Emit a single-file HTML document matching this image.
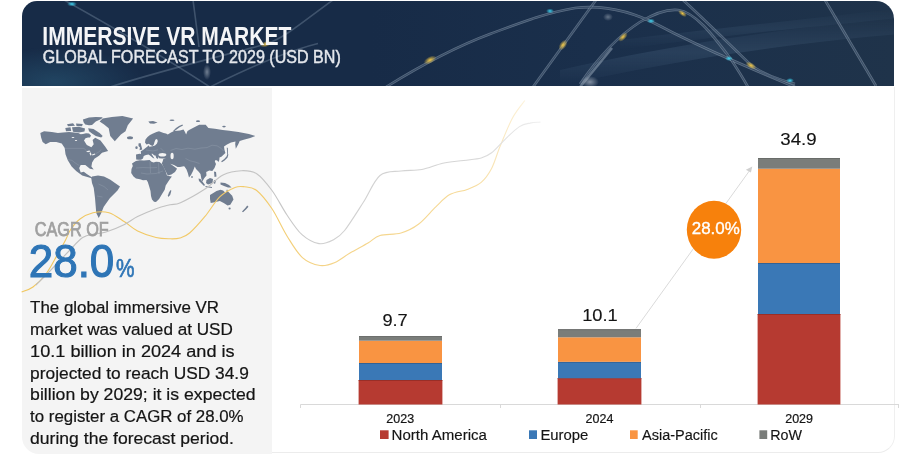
<!DOCTYPE html>
<html>
<head>
<meta charset="utf-8">
<style>
html,body{margin:0;padding:0;background:#ffffff;}
body{width:900px;height:459px;overflow:hidden;position:relative;font-family:"Liberation Sans",Arial,sans-serif;}
#hdr{position:absolute;left:22px;top:1px;width:872px;height:85px;border-radius:15px 18px 0 0;overflow:hidden;
 background:linear-gradient(90deg,#172b47 0%,#172b47 40%,#1a2f4b 65%,#1f334a 100%);}
#lp{position:absolute;left:22px;top:88px;width:250px;height:366px;background:#f4f4f4;border-bottom-left-radius:17px;}
#cf{position:absolute;left:272px;top:87px;width:622px;height:365px;background:#fff;border-right:1px solid #efefef;border-bottom:1px solid #ececec;border-bottom-right-radius:17px;}
svg{position:absolute;left:0;top:0;will-change:transform;}
</style>
</head>
<body>
<div id="hdr">
<svg width="872" height="85" viewBox="22 1 872 85">
 <defs>
  <radialGradient id="g1" cx="0.5" cy="0.5" r="0.5"><stop offset="0" stop-color="#2a5a78" stop-opacity="0.55"/><stop offset="1" stop-color="#2a5a78" stop-opacity="0"/></radialGradient>
  <radialGradient id="gw" cx="0.5" cy="0.5" r="0.5"><stop offset="0" stop-color="#dfe6ee" stop-opacity="0.75"/><stop offset="1" stop-color="#dfe6ee" stop-opacity="0"/></radialGradient>
  <radialGradient id="gy" cx="0.5" cy="0.5" r="0.5"><stop offset="0" stop-color="#f2c846" stop-opacity="1"/><stop offset="1" stop-color="#f2c846" stop-opacity="0"/></radialGradient>
  <radialGradient id="gc" cx="0.5" cy="0.5" r="0.5"><stop offset="0" stop-color="#3cd2f0" stop-opacity="1"/><stop offset="1" stop-color="#3cd2f0" stop-opacity="0"/></radialGradient>
  <filter id="bl" x="-5%" y="-5%" width="110%" height="110%"><feGaussianBlur stdDeviation="0.35"/></filter>
  <linearGradient id="band" x1="0" y1="0" x2="0" y2="1"><stop offset="0" stop-color="#5a7896" stop-opacity="0"/><stop offset="0.5" stop-color="#5a7896" stop-opacity="0.22"/><stop offset="1" stop-color="#5a7896" stop-opacity="0"/></linearGradient>
 </defs>
 <ellipse cx="55" cy="82" rx="90" ry="35" fill="url(#g1)"/>
 <path d="M560,70 C650,50 760,30 900,18 L900,34 C760,46 650,66 560,86 Z" fill="url(#band)"/>
 <path d="M620,40 C700,30 800,20 900,8 L900,18 C800,28 700,38 620,50 Z" fill="url(#band)" opacity="0.7"/>
 <g fill="none" stroke="#aebdcc" stroke-opacity="0.45" stroke-width="2.6" filter="url(#bl)">
  <path id="sA" d="M386,87 C420,66 455,47 490,34 C520,23 545,13 575,8 C600,5 630,10 660,26 C690,42 730,60 795,87"/>
  <path d="M580,84 C595,62 615,38 640,22 C655,13 668,9 678,10 C695,12 712,34 730,58 C738,70 743,78 748,87"/>
  <path d="M683,0 C705,20 730,45 752,66 C765,75 780,80 795,84"/>
  <path d="M533,87 L596,0"/>
  <path d="M580,87 L612,48"/>
  <path d="M825,0 L876,86"/>
</g>
 <g fill="none" stroke="#9aafc4" stroke-opacity="0.3" stroke-width="1.6">
  <path d="M64,0 C100,20 150,48 210,87"/>
  <path d="M110,87 C170,68 230,54 266,44 C285,38 305,20 333,0"/>
  <path d="M210,87 C240,72 270,58 300,48.7 C306,46.7 312,45 318,43.5"/>
  <path d="M193,0 C195,15 197,30 199,47"/>
 </g>
 <g fill="none" stroke="#1a2f4c" stroke-opacity="0.55" stroke-width="1.1">
  <path d="M386,87 C420,66 455,47 490,34 C520,23 545,13 575,8 C600,5 630,10 660,26 C690,42 730,60 795,87"/>
  <path d="M580,84 C595,62 615,38 640,22 C655,13 668,9 678,10 C695,12 712,34 730,58 C738,70 743,78 748,87"/>
  <path d="M683,0 C705,20 730,45 752,66 C765,75 780,80 795,84"/>
  <path d="M533,87 L596,0"/>
  <path d="M825,0 L876,86"/>
 </g>
 <ellipse cx="430" cy="60" rx="7" ry="3.5" fill="url(#gy)" transform="rotate(-28 430 60)"/>
 <ellipse cx="563" cy="45" rx="6" ry="3.5" fill="url(#gy)" transform="rotate(-55 563 45)"/>
 <ellipse cx="623" cy="37" rx="6" ry="3" fill="url(#gy)" transform="rotate(-45 623 37)"/>
 <ellipse cx="751" cy="65.5" rx="6" ry="3" fill="url(#gy)" transform="rotate(30 751 65.5)"/>
 <ellipse cx="266" cy="44" rx="6" ry="3" fill="url(#gy)" transform="rotate(-20 266 44)"/>
 <ellipse cx="682.5" cy="13.5" rx="5" ry="2.5" fill="url(#gy)" transform="rotate(35 682.5 13.5)"/>
 <ellipse cx="550" cy="11" rx="4" ry="2.5" fill="url(#gc)"/>
 <ellipse cx="651" cy="21" rx="4" ry="2.5" fill="url(#gc)"/>
 <ellipse cx="729" cy="58.5" rx="4" ry="2.5" fill="url(#gc)"/>
 <ellipse cx="790" cy="80.5" rx="4" ry="2.5" fill="url(#gc)"/>
 <ellipse cx="72" cy="4" rx="5" ry="2.5" fill="url(#gc)"/>
 <ellipse cx="207" cy="72" rx="4" ry="8" fill="url(#gw)" opacity="0.6"/>
 <ellipse cx="590" cy="82" rx="9" ry="6" fill="url(#gw)" opacity="0.7"/>
 <ellipse cx="608" cy="17" rx="5" ry="4" fill="url(#gw)" opacity="0.5"/>
</svg>
</div>
<div id="lp"></div>
<div id="cf"></div>
<svg width="900" height="459" viewBox="0 0 900 459">
 <!-- header text -->
 <text x="42.3" y="44.8" font-family="Liberation Sans, Arial, sans-serif" font-weight="bold" font-size="25.6" fill="#f4f5f7" textLength="249" lengthAdjust="spacingAndGlyphs">IMMERSIVE VR MARKET</text>
 <text x="42.8" y="63.4" font-family="Liberation Sans, Arial, sans-serif" font-size="17.8" fill="#e4e7ec" stroke="#e4e7ec" stroke-width="0.45" textLength="298" lengthAdjust="spacingAndGlyphs">GLOBAL FORECAST TO 2029 (USD BN)</text>

 <!-- world map -->
 <g fill="#707d90" stroke="none">
  <path d="M40.3,132.9 L44.1,131.3 L51.8,132.1 L57.9,132.9 L63,132.6 L69.1,132.1 L74,132.6 L78.3,132.9 L80.7,134.2 L83,134 L86,133.3 L89,133.6 L91,135.5 L90,137.5 L88,137.4 L85.5,138.2 L84,140.5 L86.8,145 L91.4,147.3 L93.7,144.3 L92.6,140 L95.2,137.8 L100.5,140.5 L105.1,146.6 L108.1,151.1 L102,152.7 L99,155.7 L94.4,158.8 L92.1,162.6 L91.4,166.4 L93.7,169.4 L89.9,168.7 L85.3,164.9 L80.7,164.9 L79.2,167.9 L80.7,172.5 L83.8,171.7 L86.8,174 L91.4,177 L95,179.5 L89.9,177.8 L82.2,175.5 L76.1,171 L71.6,166.4 L67.8,160.3 L65.5,154.2 L64.7,148.1 L61.7,143.5 L56.3,142 L50.2,142 L45.7,144.3 L42.6,142 L41.1,137.4 Z"/>
  <path d="M82.9,119.5 L89,117.6 L95.8,116.9 L102.7,117.2 L101.2,119.1 L95.8,121.4 L92,124.9 L89,125.2 L85.2,124.5 L83.6,122.2 Z"/>
  <path d="M67,124.2 L73,123.3 L75,125.8 L68,126.2 Z"/>
  <path d="M76,123.4 L82.8,124 L82,126.3 L76.5,126 Z"/>
  <path d="M65.3,128 L70.5,127.3 L71.2,131 L66,131.3 Z"/>
  <path d="M72,127.2 L79,126.8 L85,128.5 L84.5,131.5 L79,132.6 L73,131.8 Z"/>
  <path d="M88.2,128.3 L93.5,129.1 L99.6,132.9 L102.7,135.9 L101.2,137.4 L95.8,135.9 L92,133.6 L89,131.3 Z"/>
  <path d="M99.6,121.4 L102.6,118.4 L111.8,116.9 L122.4,116.1 L133.1,118.4 L127.8,125.2 L125.5,131.3 L120.9,134.4 L114.8,141.2 L110.2,135.9 L108.7,128.3 L104.1,124.5 Z"/>
  <ellipse cx="130" cy="137.8" rx="3" ry="1.5"/>
  <path d="M92,176.4 L98,175.5 L104,176.4 L110,179.5 L120,186.5 L117.5,190.5 L110,198 L103.75,206.75 L101.25,213 L98.75,218 L96.25,213 L95,198 L93.75,188 L92,183 L91.25,178 Z"/>
  <path d="M136.2,159.5 L136,154.5 L139.5,153.8 L141,154 L140.8,151.2 L143,150 L145.5,148 L147.5,146.5 L148.3,145.2 L149.5,146.8 L152.5,146.3 L155,145.5 L157,143.5 L157.8,141 L157,139 L155.5,139.5 L154.5,142 L153.8,144.5 L152.5,146 L150.5,145 L148.8,143.8 L146.5,144.5 L145,142.5 L145.5,139.5 L147.5,137 L150,135 L153,133.5 L156.5,132 L159,131.3 L163.6,132.9 L166,133.5 L167.8,134.6 L171,132.5 L174.1,131 L180,130.5 L183.5,129.4 L185,132 L186.1,134.5 L187.5,131 L190,129.4 L195.3,126.8 L199.2,124.8 L205.7,124.8 L208.4,128.1 L214.9,128.7 L222.7,130 L229.3,130.7 L238.4,132 L248.9,134 L255.4,135.9 L250.2,137.9 L243.7,139.8 L239.7,141.1 L238.4,144 L235.8,148.8 L235.2,144 L235.5,141.5 L231,142.5 L227,144.5 L224,146.4 L224.5,150 L225.4,152.9 L221.4,156.8 L219.5,157.5 L219.3,160 L218.5,162 L217.2,160.5 L215.5,160 L214.8,161.5 L216,164 L214.5,168 L212.3,171 L209.3,170.5 L206.2,172.1 L206.5,175.5 L204.2,178.3 L202.3,181.5 L201.3,178.5 L200.5,174 L198.5,171.5 L196,169 L194.8,166.5 L193,171 L191,175 L189,177.6 L187.8,173 L186.5,169.5 L184.5,166.5 L183.6,166.2 L180,167 L177.5,167 L174,165 L170.3,163.8 L172,165 L174.5,166.8 L176.5,168.2 L177,168.8 L175,172 L171.4,174.6 L167.8,175.4 L165,170 L162.5,165 L162.2,164 L161.8,163.6 L162.8,161 L163.3,159 L166,158.4 L162,158.4 L159,158.3 L158.4,156.5 L158,159 L156.3,158 L155.5,155.6 L154.5,155.5 L152,153.5 L151.5,154 L154.5,158.5 L153,158 L150,155.5 L148.5,154.5 L146,155 L143.7,156 L143,158.5 L141,159.7 L138.5,159.8 Z"/>
  <path d="M132,163.4 L135.9,161 L139.8,160.3 L144,160.5 L149.6,160 L151.5,161.8 L153.5,162.5 L156,161.8 L159.4,162 L161.6,163.8 L163.5,166.5 L165.5,171 L167,175.6 L168.5,176 L171.9,176.4 L170,179 L168.3,181.5 L165.7,185.6 L164.7,189.7 L162.2,193.8 L159.1,198.9 L156,202 L154,201.8 L152,199.5 L151,196 L150.5,191 L149.2,186.5 L147.8,182 L146.5,180 L143,180.3 L140,179.2 L136,178.4 L133.5,176.5 L131.2,173 L131.5,169 L132.8,166 Z"/>
  <path d="M170.3,190.2 L171.4,190.6 L170.2,195 L168.2,197 L167.9,195.5 L169,192.5 Z"/>
  <path d="M138.5,143.5 L140.5,143 L141.5,146.5 L142.3,149.5 L139.5,150.3 L140,147.5 L138.5,146 Z"/>
  <ellipse cx="136.5" cy="147.7" rx="1.2" ry="1.4"/>
  <path d="M227.5,153.8 L228.4,154.5 L227.6,157.6 L224.6,160.6 L221.9,162.2 L221.2,161.3 L224,159.3 L226.5,156.5 Z"/>
  <path d="M226.8,147.5 L227.8,148 L228,154 L227.2,154.3 Z"/>
  <path d="M173,130.9 L176,128 L179,126 L182.4,124.6 L183,125.4 L179.6,127.3 L176.6,129.4 L173.9,131.4 Z"/>
  <ellipse cx="198" cy="121.2" rx="2" ry="0.9"/>
  <ellipse cx="224" cy="126.6" rx="1.8" ry="0.8"/>
  <ellipse cx="172" cy="120.3" rx="2.5" ry="0.8"/>
  <ellipse cx="192" cy="177" rx="0.8" ry="1.1"/>
  <path d="M198.5,178.5 L200.5,179 L205,185 L204,186 L199,181 Z"/>
  <path d="M205.5,186 L212,187 L212,188 L205.5,187 Z"/>
  <path d="M206.5,180 L210,178 L213,179 L212.5,183 L208,184.5 L206,183 Z"/>
  <path d="M214,180 L216,180.5 L215,184 L213.5,183 Z"/>
  <path d="M220.5,182.5 L225,183 L229,185 L231.5,187.5 L228,187.5 L224,186 L220.5,184.5 Z"/>
  <path d="M214,171.5 L216,172 L216.5,176.5 L214.5,177 Z"/>
  <path d="M210,195 L213.3,193.1 L216.5,191.1 L220.5,189.8 L223.1,190.5 L225.7,193.1 L227,189.2 L228.3,191.8 L232.2,195.7 L233.5,199.6 L230.3,204.8 L227.6,205.5 L223.7,202.9 L219.8,200.9 L214.6,202.2 L210.7,202.9 L210,199 Z"/>
  <ellipse cx="229.6" cy="208.4" rx="1.1" ry="1"/>
  <path d="M242,211.4 L245.3,208.1 L247.2,205.5 L248.5,206.8 L246,209.5 L243,212.3 Z"/>
  <path d="M148.3,121.4 L153,121 L157.5,122.5 L154,123.7 L150,123.5 Z"/>
  
  
 </g>
 <g fill="#f3f3f3">
  <ellipse cx="162.4" cy="154.8" rx="3.9" ry="1.8"/>
  <ellipse cx="172.1" cy="156" rx="1.6" ry="3.2"/>
  <path d="M86,151.2 L89.5,150.6 L90.5,151.6 L88,152.3 Z"/>
  <path d="M89.5,153 L90.8,152.2 L91.5,155 L90.3,155.5 Z"/>
  <path d="M92,154.6 L95,153.6 L95.3,154.4 L92.5,155.4 Z"/>
  <ellipse cx="73" cy="137.5" rx="1.4" ry="0.6"/>
  <ellipse cx="76" cy="140.5" rx="1.2" ry="0.5"/>
 </g>
 <g fill="none" stroke="#9aa5b3" stroke-width="0.45" stroke-opacity="0.8">
  <path d="M64.8,148.4 L84,148.4 L86.5,150.8 M95.5,153.8 L99.5,151.5 L101,149.5"/>
  <path d="M67.6,159.6 L72,160.4 L75,162.8 L79.2,165.5"/>
  <path d="M170.5,150.5 L176,148.5 L182,149.5 L188,148.2 L195,149.2 L201,148 L207,147.6 L212,145.2 L217,145.8 L221,148.2 L223.5,151"/>
  <path d="M185.5,158.5 L190,160.8 L195,162 L199.5,163.5"/>
  <path d="M136,168 L143,167.5 L150,167.8 L157,167.5 M150,161.5 L150.5,173 M158.5,162.5 L159,174 M141,173 L147,174 L156,173.5 L163,171"/>
  <path d="M98.5,184 L104,186.5 L108,190 M97,196 L102.5,197"/>
  <path d="M146,150 L153,151 L158,149.8 M160.5,148 L164,151.5"/>
 </g>

 <!-- decorative curves -->
 <defs>
  <linearGradient id="fy" gradientUnits="userSpaceOnUse" x1="0" y1="0" x2="530" y2="0"><stop offset="0" stop-color="#f0c55a"/><stop offset="0.5" stop-color="#f2cb6c"/><stop offset="0.6" stop-color="#f4d386"/><stop offset="0.88" stop-color="#f6da98"/><stop offset="0.94" stop-color="#f9e6bb"/><stop offset="1" stop-color="#fdf5e2"/></linearGradient>
  <linearGradient id="fg" gradientUnits="userSpaceOnUse" x1="0" y1="0" x2="545" y2="0"><stop offset="0" stop-color="#bdbdbd"/><stop offset="0.5" stop-color="#c4c4c4"/><stop offset="0.6" stop-color="#d0d0d0"/><stop offset="0.86" stop-color="#d6d6d6"/><stop offset="0.93" stop-color="#e2e2e2"/><stop offset="1" stop-color="#f2f2f2"/></linearGradient>
 </defs>
 <g fill="none" stroke-width="1.1">
  <path d="M21.6,292.0 C23.5,291.2 28.9,290.0 33.0,287.0 C37.1,284.0 41.9,279.4 46.0,274.0 C50.1,268.6 54.3,260.1 57.6,254.4 C60.9,248.7 63.5,243.9 65.7,239.7 C67.9,235.5 68.6,232.4 71.0,229.0 C73.4,225.6 76.3,221.7 80.0,219.0 C83.7,216.3 88.2,213.8 93.0,212.7 C97.8,211.6 103.8,211.2 109.0,212.7 C114.2,214.2 119.7,218.8 124.5,221.8 C129.3,224.9 132.3,228.4 137.6,231.0 C142.8,233.6 150.6,236.2 156.0,237.5 C161.4,238.8 166.0,238.7 170.0,238.8 C174.0,238.9 176.7,239.0 180.0,238.0 C183.3,237.0 185.4,236.6 189.6,233.0 C193.8,229.4 199.9,222.5 205.0,216.4 C210.1,210.3 215.0,201.4 220.0,196.6 C225.0,191.8 230.9,189.0 235.0,187.4 C239.1,185.8 240.9,186.3 244.5,186.8 C248.1,187.3 252.1,186.8 256.7,190.5 C261.3,194.2 266.9,201.2 272.0,208.8 C277.1,216.4 281.9,227.9 287.0,236.0 C292.1,244.1 296.9,252.7 302.4,257.6 C307.9,262.5 314.6,264.7 320.0,265.5 C325.4,266.3 330.0,264.6 335.0,262.5 C340.0,260.4 344.5,256.2 350.0,253.0 C355.5,249.8 363.0,245.9 368.0,243.0 C373.0,240.1 374.5,237.2 380.0,235.5 C385.5,233.8 394.6,234.9 401.0,233.0 C407.4,231.1 412.6,228.7 418.4,224.3 C424.2,219.9 430.6,211.8 435.8,206.8 C441.0,201.9 444.6,197.5 449.8,194.6 C455.0,191.7 462.0,191.4 467.2,189.4 C472.4,187.4 477.1,185.9 481.2,182.4 C485.3,178.9 488.4,174.6 491.6,168.5 C494.8,162.4 496.8,154.2 500.3,145.8 C503.8,137.4 508.4,125.5 512.5,117.9 C516.6,110.4 522.8,103.4 524.8,100.5" stroke="url(#fy)"/>
  <path d="M36.0,285.0 C38.2,282.8 43.5,277.7 49.0,272.0 C54.5,266.3 63.4,256.8 69.0,251.0 C74.6,245.2 78.4,240.3 82.7,237.5 C87.0,234.7 91.1,234.9 95.0,234.0 C98.9,233.1 101.1,233.6 106.0,232.0 C110.9,230.4 119.2,227.0 124.5,224.4 C129.8,221.8 132.3,219.2 137.6,216.6 C142.8,214.0 150.6,210.7 156.0,208.7 C161.4,206.7 165.9,205.8 170.0,204.8 C174.1,203.8 174.7,205.3 180.5,202.7 C186.3,200.1 197.9,193.6 205.0,189.0 C212.1,184.4 216.9,178.1 223.0,175.0 C229.1,171.9 235.9,170.9 241.5,170.7 C247.1,170.5 251.6,170.4 256.7,173.7 C261.8,177.0 266.9,183.6 272.0,190.5 C277.1,197.4 282.0,207.6 287.0,215.0 C292.0,222.4 296.7,229.9 302.0,234.7 C307.3,239.5 313.8,242.7 319.0,243.6 C324.2,244.5 328.7,242.2 333.0,240.0 C337.3,237.8 339.6,236.8 344.6,230.5 C349.6,224.2 357.3,211.7 363.2,202.5 C369.1,193.3 373.7,180.8 380.0,175.5 C386.3,170.2 394.0,172.0 401.0,171.0 C408.0,170.0 414.9,170.8 421.9,169.5 C428.9,168.2 435.8,164.7 442.8,163.2 C449.8,161.7 457.3,161.4 463.7,160.5 C470.1,159.6 476.5,159.3 481.2,158.0 C485.9,156.7 487.5,156.0 491.6,152.8 C495.7,149.6 501.0,143.2 505.6,138.8 C510.2,134.4 515.4,129.2 519.5,126.6 C523.6,124.0 526.5,123.8 530.0,123.1 C533.5,122.3 538.7,122.3 540.4,122.1" stroke="url(#fg)"/>
 </g>

 <!-- CAGR -->
 <text x="34.7" y="235.6" font-family="Liberation Sans, Arial, sans-serif" font-size="19.7" fill="#a0a0a0" stroke="#a0a0a0" stroke-width="0.75" textLength="74" lengthAdjust="spacingAndGlyphs">CAGR OF</text>
 <text x="28.8" y="276.5" font-family="Liberation Sans, Arial, sans-serif" font-size="45.6" fill="#2e75b6" stroke="#2e75b6" stroke-width="1.1" textLength="85.5" lengthAdjust="spacingAndGlyphs">28.0</text>
 <text x="116" y="276.6" font-family="Liberation Sans, Arial, sans-serif" font-size="26" fill="#2e75b6" stroke="#2e75b6" stroke-width="0.7" textLength="18.5" lengthAdjust="spacingAndGlyphs">%</text>

 <!-- body text -->
 <g font-family="Liberation Sans, Arial, sans-serif" font-size="16.3" fill="#141414" stroke="#141414" stroke-width="0.2">
  <text x="30.1" y="313.4" textLength="189.0" lengthAdjust="spacingAndGlyphs">The global immersive VR</text>
  <text x="30.1" y="335.1" textLength="202.8" lengthAdjust="spacingAndGlyphs">market was valued at USD</text>
  <text x="30.1" y="356.8" textLength="204.5" lengthAdjust="spacingAndGlyphs">10.1 billion in 2024 and is</text>
  <text x="30.1" y="378.5" textLength="218.7" lengthAdjust="spacingAndGlyphs">projected to reach USD 34.9</text>
  <text x="30.1" y="400.2" textLength="225.5" lengthAdjust="spacingAndGlyphs">billion by 2029; it is expected</text>
  <text x="30.1" y="422.0" textLength="213.5" lengthAdjust="spacingAndGlyphs">to register a CAGR of 28.0%</text>
  <text x="30.1" y="443.7" textLength="203.9" lengthAdjust="spacingAndGlyphs">during the forecast period.</text>
 </g>

 <!-- axis -->
 <g stroke="#d9d9d9" stroke-width="1" fill="none">
  <path d="M300.5,404.5 H899"/>
  <path d="M300.5,404.5 V408 M500.5,404.5 V408 M700.5,404.5 V408 M898.5,404.5 V408"/>
 </g>

 <!-- bars -->
 <g>
  <rect x="358.6" y="380.0" width="83.8" height="24.5" fill="#b63a31"/>
  <rect x="358.6" y="380.0" width="83.8" height="0.9" fill="#8f2b25" opacity="0.8"/>
  <rect x="359.0" y="363.0" width="83.0" height="17.0" fill="#3a78b6"/>
  <rect x="359.0" y="363.0" width="83.0" height="0.9" fill="#2f5a88" opacity="0.8"/>
  <rect x="359.0" y="340.7" width="83.0" height="22.3" fill="#f99442"/>
  <rect x="359.0" y="336.1" width="83.0" height="4.6" fill="#7a7d7a"/>
  <rect x="359.0" y="336.1" width="83.0" height="0.9" fill="#646664" opacity="0.8"/>
  <rect x="557.6" y="378.2" width="83.8" height="26.3" fill="#b63a31"/>
  <rect x="557.6" y="378.2" width="83.8" height="0.9" fill="#8f2b25" opacity="0.8"/>
  <rect x="558.0" y="361.8" width="83.0" height="16.4" fill="#3a78b6"/>
  <rect x="558.0" y="361.8" width="83.0" height="0.9" fill="#2f5a88" opacity="0.8"/>
  <rect x="558.0" y="337.3" width="83.0" height="24.5" fill="#f99442"/>
  <rect x="558.0" y="329.2" width="83.0" height="8.1" fill="#7a7d7a"/>
  <rect x="558.0" y="329.2" width="83.0" height="0.9" fill="#646664" opacity="0.8"/>
  <rect x="757.6" y="314.0" width="82.8" height="90.5" fill="#b63a31"/>
  <rect x="757.6" y="314.0" width="82.8" height="0.9" fill="#8f2b25" opacity="0.8"/>
  <rect x="758.0" y="263.0" width="82.0" height="51.0" fill="#3a78b6"/>
  <rect x="758.0" y="263.0" width="82.0" height="0.9" fill="#2f5a88" opacity="0.8"/>
  <rect x="758.0" y="168.7" width="82.0" height="94.3" fill="#f99442"/>
  <rect x="758.0" y="158.0" width="82.0" height="10.7" fill="#7a7d7a"/>
  <rect x="758.0" y="158.0" width="82.0" height="0.9" fill="#646664" opacity="0.8"/>
 </g>

 <!-- value labels -->
 <g font-family="Liberation Sans, Arial, sans-serif" font-size="17.4" fill="#141414" stroke="#141414" stroke-width="0.15">
  <text x="382.4" y="326.2" textLength="25.4" lengthAdjust="spacingAndGlyphs">9.7</text>
  <text x="582.2" y="321.4" textLength="35.6" lengthAdjust="spacingAndGlyphs">10.1</text>
  <text x="780.3" y="144.9" textLength="36.4" lengthAdjust="spacingAndGlyphs">34.9</text>
 </g>

 <!-- arrow -->
 <path d="M636,328.4 L750,170" stroke="#dadada" stroke-width="1" fill="none"/>
 <path d="M752.3,166.6 L745.8,169.8 L750.9,172.6 Z" fill="#d0d0d0"/>
 <ellipse cx="714" cy="229.8" rx="27.2" ry="29" fill="#f7810c"/>
 <text x="715.8" y="234" font-family="Liberation Sans, Arial, sans-serif" font-size="16.3" fill="#ffffff" stroke="#ffffff" stroke-width="0.35" text-anchor="middle" textLength="48" lengthAdjust="spacingAndGlyphs">28.0%</text>

 <!-- x labels -->
 <g font-family="Liberation Sans, Arial, sans-serif" font-size="12" fill="#141414" stroke="#141414" stroke-width="0.2">
  <text x="386.3" y="423.4" textLength="27.8" lengthAdjust="spacingAndGlyphs">2023</text>
  <text x="585.6" y="423.4" textLength="27.8" lengthAdjust="spacingAndGlyphs">2024</text>
  <text x="785.2" y="423.4" textLength="27.8" lengthAdjust="spacingAndGlyphs">2029</text>
 </g>

 <!-- legend -->
 <rect x="380" y="430.3" width="8.6" height="8.7" fill="#b63a31"/>
 <rect x="529" y="430.3" width="8" height="8.7" fill="#3a78b6"/>
 <rect x="630" y="430.3" width="7.7" height="8.7" fill="#f99442"/>
 <rect x="759.4" y="430.3" width="7.8" height="8.7" fill="#7a7d7a"/>
 <g font-family="Liberation Sans, Arial, sans-serif" font-size="14" fill="#141414" stroke="#141414" stroke-width="0.15">
  <text x="391.6" y="440" textLength="95.4" lengthAdjust="spacingAndGlyphs">North America</text>
  <text x="540.4" y="440" textLength="48" lengthAdjust="spacingAndGlyphs">Europe</text>
  <text x="642" y="440" textLength="75.8" lengthAdjust="spacingAndGlyphs">Asia-Pacific</text>
  <text x="770.2" y="440" textLength="31.8" lengthAdjust="spacingAndGlyphs">RoW</text>
 </g>
</svg>
</body>
</html>
